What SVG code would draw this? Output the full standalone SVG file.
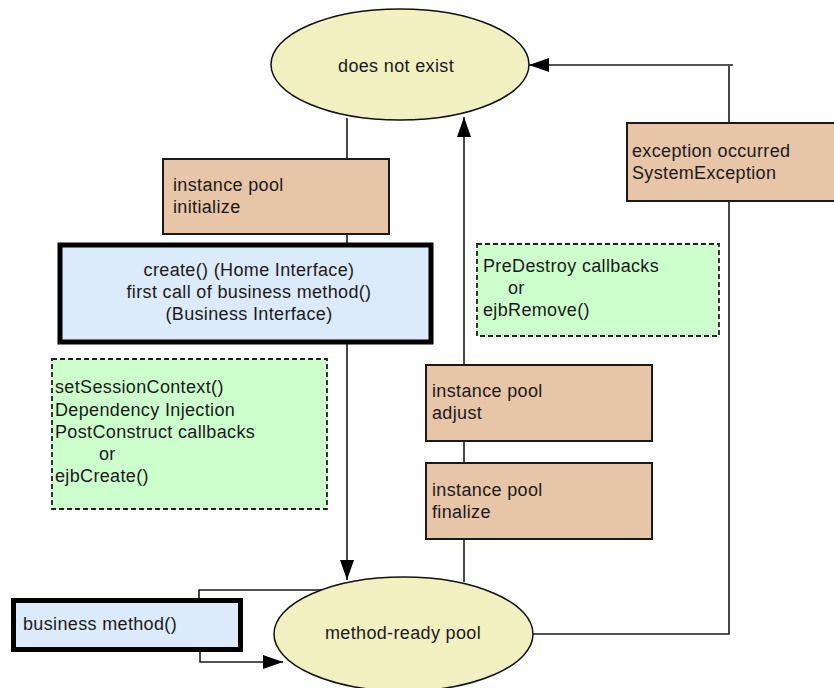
<svg xmlns="http://www.w3.org/2000/svg" width="834" height="688" viewBox="0 0 834 688">
  <style>
    text { font-family: "Liberation Sans", Arial, sans-serif; font-size: 18px; letter-spacing: 0.35px; fill: #1a1a1a; }
    .state { fill: #f0f0c0; stroke: #111; stroke-width: 1.5; }
    .step { fill: #e6c6a6; stroke: #1a1a1a; stroke-width: 2; }
    .call { fill: #dcebfb; stroke: #000; stroke-width: 5; }
    .note { fill: #ccffcc; stroke: #222; stroke-width: 1.8; stroke-dasharray: 5 3; }
    .wire { fill: none; stroke: #1a1a1a; stroke-width: 1.6; }
    .mid { text-anchor: middle; }
  </style>
  <defs>
    <marker id="arrow" viewBox="0 0 20 14" refX="20" refY="7" markerWidth="20" markerHeight="14" markerUnits="userSpaceOnUse" orient="auto">
      <path d="M0,0 L20,7 L0,14 Z" fill="#000"/>
    </marker>
  </defs>

  <rect width="834" height="688" fill="#fff"/>

  <!-- connectors -->
  <g id="connectors">
    <!-- creation path -->
    <line class="wire" x1="347" y1="118" x2="347" y2="159"/>
    <line class="wire" x1="347" y1="234" x2="347" y2="245"/>
    <line class="wire" x1="347" y1="342" x2="347" y2="580" marker-end="url(#arrow)"/>
    <!-- removal path -->
    <line class="wire" x1="464" y1="582" x2="464" y2="539"/>
    <line class="wire" x1="464" y1="463" x2="464" y2="441"/>
    <line class="wire" x1="464" y1="365" x2="464" y2="117" marker-end="url(#arrow)"/>
    <!-- exception path -->
    <polyline class="wire" points="533,634 729,634 729,201"/>
    <line class="wire" x1="729" y1="123" x2="729" y2="66"/>
    <line class="wire" x1="733" y1="65" x2="529" y2="65" marker-end="url(#arrow)"/>
    <!-- business method loop -->
    <polyline class="wire" points="199,600 199,590 322,590"/>
    <polyline class="wire" points="200,650 200,662 283,662" marker-end="url(#arrow)"/>
  </g>

  <g id="does-not-exist">
    <ellipse class="state" cx="400" cy="64.5" rx="129" ry="55.5"/>
    <text class="mid" x="396" y="72">does not exist</text>
  </g>

  <g id="pool-initialize">
    <rect class="step" x="163" y="159" width="226" height="75"/>
    <text x="173" y="191">instance pool</text>
    <text x="173" y="213">initialize</text>
  </g>

  <g id="create-call">
    <rect class="call" x="60" y="245" width="371" height="97"/>
    <text class="mid" x="249" y="276">create() (Home Interface)</text>
    <text class="mid" x="249" y="298">first call of business method()</text>
    <text class="mid" x="249" y="320">(Business Interface)</text>
  </g>

  <g id="create-callbacks">
    <rect class="note" x="52" y="359" width="275" height="150"/>
    <text x="55" y="393">setSessionContext()</text>
    <text x="55" y="416">Dependency Injection</text>
    <text x="55" y="438">PostConstruct callbacks</text>
    <text x="99" y="460">or</text>
    <text x="55" y="482">ejbCreate()</text>
  </g>

  <g id="exception">
    <rect class="step" x="627" y="123" width="208" height="78"/>
    <text x="632" y="157">exception occurred</text>
    <text x="632" y="179">SystemException</text>
  </g>

  <g id="remove-callbacks">
    <rect class="note" x="477" y="244" width="242" height="92"/>
    <text x="483" y="272">PreDestroy callbacks</text>
    <text x="508" y="294">or</text>
    <text x="483" y="316">ejbRemove()</text>
  </g>

  <g id="pool-adjust">
    <rect class="step" x="426" y="365" width="226" height="76"/>
    <text x="432" y="397">instance pool</text>
    <text x="432" y="419">adjust</text>
  </g>

  <g id="pool-finalize">
    <rect class="step" x="426" y="463" width="226" height="76"/>
    <text x="432" y="496">instance pool</text>
    <text x="432" y="518">finalize</text>
  </g>

  <g id="method-ready-pool">
    <ellipse class="state" cx="403.5" cy="634" rx="129.5" ry="57"/>
    <text class="mid" x="403" y="639">method-ready pool</text>
  </g>

  <g id="business-method">
    <rect class="call" x="13.5" y="600.5" width="227" height="49"/>
    <text x="23" y="630">business method()</text>
  </g>
</svg>
